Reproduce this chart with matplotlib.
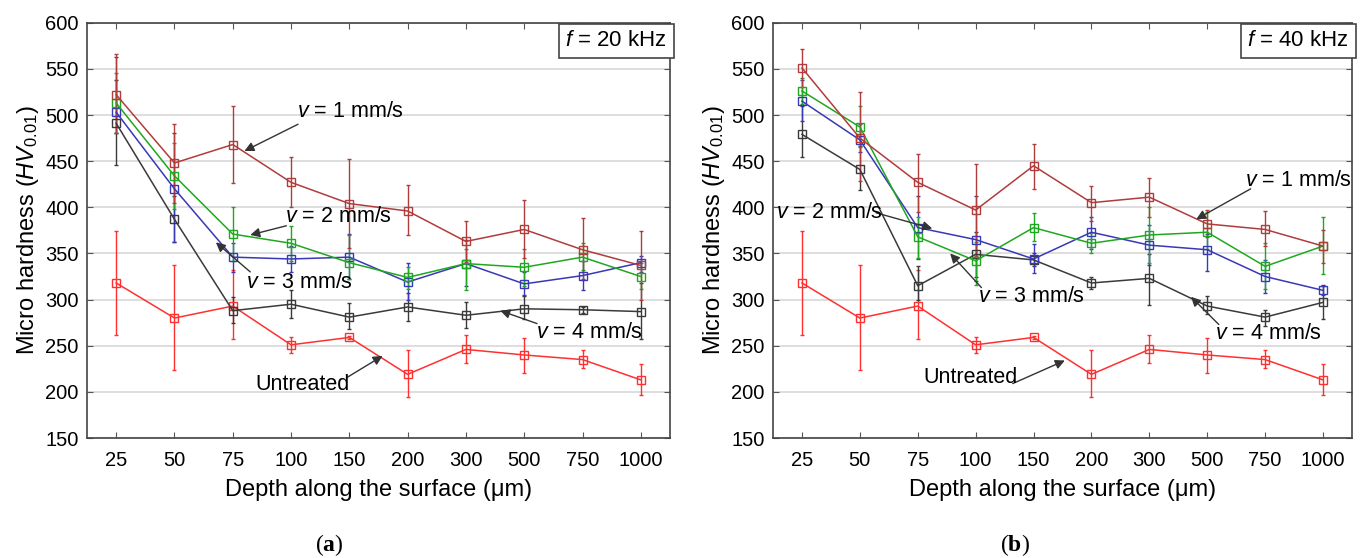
import matplotlib
matplotlib.use("Agg")
import matplotlib.pyplot as plt
import numpy as np

plt.rcParams['font.family'] = ['Liberation Sans', 'DejaVu Sans']
plt.rcParams['mathtext.fontset'] = 'custom'
plt.rcParams['mathtext.rm'] = 'Liberation Sans'
plt.rcParams['mathtext.it'] = 'Liberation Sans:italic'
plt.rcParams['mathtext.bf'] = 'Liberation Serif:bold'

depths = ["25", "50", "75", "100", "150", "200", "300", "500", "750", "1000"]
yticks = [150, 200, 250, 300, 350, 400, 450, 500, 550, 600]

# ---- f = 20 kHz ----
a_v1 = [522, 448, 468, 427, 404, 396, 363, 376, 354, 337]
a_v1_up = [566, 490, 510, 455, 452, 424, 385, 408, 388, 374]
a_v1_lo = [480, 405, 426, 400, 356, 370, 341, 345, 322, 300]
a_v2 = [513, 434, 371, 361, 340, 324, 339, 335, 346, 325]
a_v2_up = [545, 470, 400, 380, 370, 335, 355, 355, 361, 340]
a_v2_lo = [480, 398, 342, 342, 322, 312, 310, 315, 332, 312]
a_v3 = [503, 420, 346, 344, 346, 319, 339, 317, 326, 340]
a_v3_up = [563, 480, 361, 358, 371, 340, 365, 330, 342, 347]
a_v3_lo = [480, 362, 330, 330, 322, 300, 315, 305, 310, 330]
a_v4 = [491, 387, 288, 295, 281, 292, 283, 290, 289, 287]
a_v4_up = [538, 412, 303, 310, 296, 307, 297, 304, 292, 318]
a_v4_lo = [446, 362, 275, 280, 268, 277, 269, 279, 285, 257]

# ---- untreated (same in both panels) ----
untr = [318, 280, 293, 251, 259, 219, 246, 240, 235, 213]
untr_up = [374, 337, 332, 260, 261, 245, 262, 258, 245, 230]
untr_lo = [262, 224, 257, 242, 257, 194, 231, 221, 226, 197]

# ---- f = 40 kHz ----
b_v1 = [551, 475, 427, 397, 445, 405, 411, 382, 376, 358]
b_v1_up = [572, 525, 458, 447, 469, 423, 432, 397, 396, 375]
b_v1_lo = [530, 428, 395, 347, 420, 385, 390, 368, 358, 340]
b_v2 = [526, 487, 368, 342, 378, 361, 370, 373, 336, 358]
b_v2_up = [540, 510, 390, 362, 394, 372, 400, 395, 361, 390]
b_v2_lo = [512, 465, 345, 316, 363, 350, 340, 355, 312, 328]
b_v3 = [515, 473, 378, 365, 344, 373, 359, 354, 325, 310]
b_v3_up = [538, 490, 412, 412, 360, 389, 381, 371, 343, 315]
b_v3_lo = [493, 460, 344, 320, 329, 355, 338, 331, 307, 305]
b_v4 = [479, 441, 315, 349, 343, 318, 323, 293, 281, 297]
b_v4_up = [510, 466, 336, 373, 350, 325, 349, 304, 289, 316]
b_v4_lo = [455, 419, 300, 325, 336, 311, 294, 284, 271, 279]

colors = {"v1": "#b03c3c", "v2": "#1fa81f", "v3": "#3838b8", "v4": "#3a3a3a", "untr": "#ff3030"}

fig = plt.figure(figsize=(13.6, 5.58), dpi=100)
axA = fig.add_axes([0.0640, 0.2150, 0.4286, 0.7443])
axB = fig.add_axes([0.5684, 0.2150, 0.4257, 0.7443])

x = np.arange(len(depths))


def draw(ax, series):
    for vals, up, lo, c in series:
        vals = np.array(vals); up = np.array(up); lo = np.array(lo)
        ax.errorbar(x, vals, yerr=[vals - lo, up - vals], color=c, lw=1.1,
                    elinewidth=1.0, capsize=1.5, capthick=0.8,
                    marker='s', ms=5.2, mfc='none', mec=c, mew=1.0, zorder=3)
    ax.set_xlim(-0.5, 9.5)
    ax.set_ylim(150, 600)
    ax.set_yticks(yticks)
    ax.set_xticks(x)
    ax.set_xticklabels(depths)
    ax.yaxis.grid(True, color='#d8d8d8', lw=1.2, zorder=0)
    ax.set_axisbelow(True)
    ax.tick_params(axis='both', labelsize=14.5, direction='in', length=4,
                   color='#555555', right=True, top=True)
    ax.tick_params(axis='y', pad=6)
    ax.tick_params(axis='x', pad=9)
    for s in ax.spines.values():
        s.set_color('#444444'); s.set_linewidth(1.2)
    ax.set_xlabel("Depth along the surface (\u03bcm)", fontsize=17, labelpad=7)
    ax.set_ylabel(r"Micro hardness ($\mathit{HV}_{\mathit{0.01}}$)", fontsize=17, labelpad=3)


draw(axA, [(untr, untr_up, untr_lo, colors["untr"]),
           (a_v4, a_v4_up, a_v4_lo, colors["v4"]),
           (a_v3, a_v3_up, a_v3_lo, colors["v3"]),
           (a_v2, a_v2_up, a_v2_lo, colors["v2"]),
           (a_v1, a_v1_up, a_v1_lo, colors["v1"])])
draw(axB, [(untr, untr_up, untr_lo, colors["untr"]),
           (b_v4, b_v4_up, b_v4_lo, colors["v4"]),
           (b_v3, b_v3_up, b_v3_lo, colors["v3"]),
           (b_v2, b_v2_up, b_v2_lo, colors["v2"]),
           (b_v1, b_v1_up, b_v1_lo, colors["v1"])])

arrow = dict(arrowstyle='-|>', color='#333333', lw=1.0, mutation_scale=14, shrinkA=0, shrinkB=0)
fs = 15.5


def ann(ax, label, txy, hxy, tail, ha='left'):
    ax.annotate("", xy=hxy, xytext=tail, arrowprops=arrow, zorder=5)
    ax.text(txy[0], txy[1], label, fontsize=fs, ha=ha, va='center', zorder=6)


# panel a annotations
ann(axA, r"$\mathit{v}$ = 1 mm/s", (3.1, 504), (2.2, 461), (3.12, 490))
ann(axA, r"$\mathit{v}$ = 2 mm/s", (2.9, 390), (2.3, 370), (2.92, 380))
ann(axA, r"$\mathit{v}$ = 3 mm/s", (2.22, 319), (1.71, 362), (2.3, 330))
ann(axA, r"$\mathit{v}$ = 4 mm/s", (7.2, 264), (6.59, 288), (7.22, 274))
ann(axA, "Untreated", (2.38, 208), (4.57, 239), (3.97, 216))

# panel b annotations
ann(axB, r"$\mathit{v}$ = 1 mm/s", (7.65, 429), (6.81, 387), (7.75, 420))
ann(axB, r"$\mathit{v}$ = 2 mm/s", (-0.45, 394), (2.25, 377), (1.28, 394))
ann(axB, r"$\mathit{v}$ = 3 mm/s", (3.04, 303), (2.56, 350), (3.1, 313))
ann(axB, r"$\mathit{v}$ = 4 mm/s", (7.13, 263), (6.72, 303), (7.2, 273))
ann(axB, "Untreated", (2.09, 216), (4.54, 234), (3.64, 209))

for ax, lab in [(axA, r"$\mathit{f}$ = 20 kHz"), (axB, r"$\mathit{f}$ = 40 kHz")]:
    ax.text(0.995, 0.982, lab, transform=ax.transAxes, ha='right', va='top',
            fontsize=16, zorder=7,
            bbox=dict(boxstyle='square,pad=0.3', fc='white', ec='#444444', lw=1.2))

fig.text(0.242, 0.023, r"($\mathbf{a}$)", ha='center', va='center', fontsize=17, family='Liberation Serif')
fig.text(0.746, 0.023, r"($\mathbf{b}$)", ha='center', va='center', fontsize=17, family='Liberation Serif')

fig.savefig("out.png", dpi=100)
